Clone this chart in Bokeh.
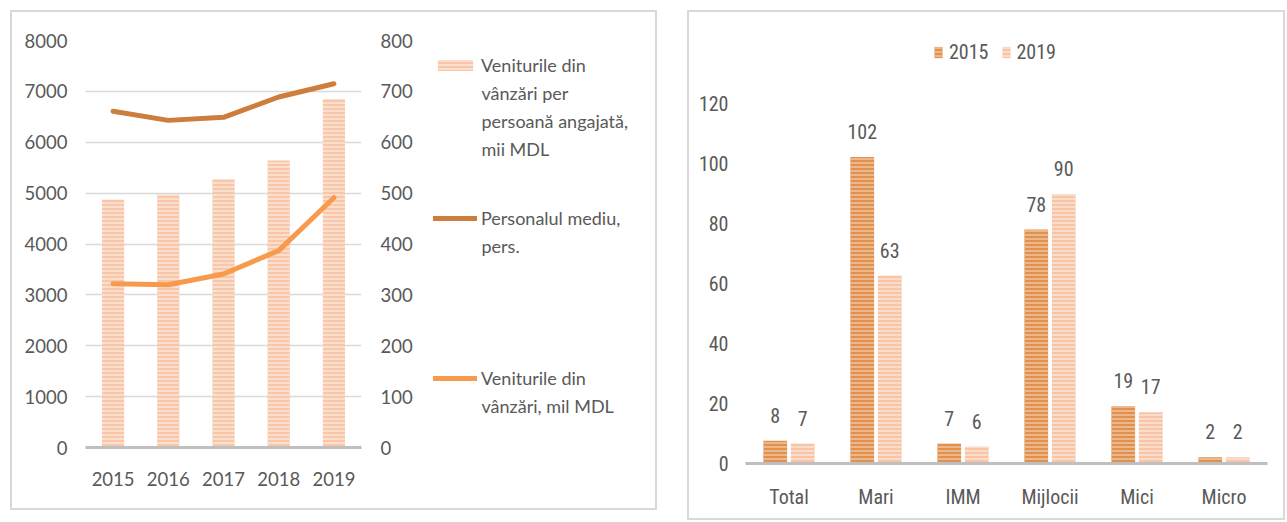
from bokeh.plotting import figure
from bokeh.models import (ColumnDataSource, Range1d, LinearAxis, FactorRange, Legend,
                          LegendItem, LabelSet, Label, FixedTicker)
from bokeh.layouts import row, column
from bokeh.transform import dodge
from bokeh.core.properties import value
from bokeh.embed import file_html
from bokeh.resources import INLINE

# ---------------- data ----------------
years = ["2015", "2016", "2017", "2018", "2019"]
sales_per_employee = [4870, 4970, 5270, 5640, 6850]   # mii MDL (left axis)
avg_staff = [661, 643, 649, 689, 715]                 # pers. (right axis)
sales_revenue = [322, 320, 341, 387, 491]             # mil MDL (right axis)

legend_left = [
    ["Veniturile din", "vânzări per", "persoană angajată,", "mii MDL"],
    ["Personalul mediu,", "pers."],
    ["Veniturile din", "vânzări, mil MDL"],
]

categories = ["Total", "Mari", "IMM", "Mijlocii", "Mici", "Micro"]
vals_2015 = [7.6, 102.2, 6.6, 78.0, 19.1, 2.1]
vals_2019 = [6.6, 62.6, 5.6, 89.8, 17.1, 2.1]
series_names = ["2015", "2019"]

TXT = "#595959"
FONT_L = "Lato"
FONT_R = "Roboto Condensed"
DARK = "#CD7D3C"
LIGHT = "#F79A4C"
BORDER = "2px solid #D9D9D9"

# ---------------- left chart ----------------
src1 = ColumnDataSource(dict(year=years, spe=sales_per_employee, staff=avg_staff, rev=sales_revenue))

p1 = figure(x_range=years, y_range=Range1d(0, 8000), width=416, height=496,
            output_backend="svg", toolbar_location=None,
            min_border_left=73, min_border_right=67, min_border_top=28, min_border_bottom=61)
p1.extra_y_ranges = {"r": Range1d(0, 800)}
p1.outline_line_color = None

bar_style = dict(fill_color="#F8C6A8", line_color=None, hatch_pattern="horizontal_line",
                 hatch_color="#FDE6D8", hatch_scale=4, hatch_weight=1.5)
staff_style = dict(line_width=5, line_color=DARK, line_cap="round", line_join="round")
rev_style = dict(line_width=5, line_color=LIGHT, line_cap="round", line_join="round")

p1.vbar(x="year", top="spe", width=0.4, source=src1, **bar_style)
p1.line(x="year", y="staff", y_range_name="r", source=src1, **staff_style)
p1.line(x="year", y="rev", y_range_name="r", source=src1, **rev_style)

p1.xgrid.grid_line_color = None
p1.ygrid.grid_line_color = "#D9D9D9"
p1.ygrid.grid_line_width = 1.5
p1.yaxis.ticker = FixedTicker(ticks=list(range(0, 8001, 1000)))

ax_r = LinearAxis(y_range_name="r", ticker=FixedTicker(ticks=list(range(0, 801, 100))))
p1.add_layout(ax_r, "right")

for ax, so in ((p1.yaxis[0], 18), (ax_r, 19)):
    ax.axis_line_color = None
    ax.major_tick_line_color = None
    ax.minor_tick_line_color = None
    ax.major_tick_out = 0
    ax.major_tick_in = 0
    ax.minor_tick_out = 0
    ax.major_label_text_color = TXT
    ax.major_label_text_font = FONT_L
    ax.major_label_text_font_size = "18.5px"
    ax.major_label_standoff = so

xa = p1.xaxis[0]
xa.axis_line_color = "#BFBFBF"
xa.axis_line_width = 3
xa.major_tick_line_color = None
xa.minor_tick_line_color = None
xa.major_tick_out = 0
xa.major_tick_in = 0
xa.major_label_text_color = TXT
xa.major_label_text_font = FONT_L
xa.major_label_text_font_size = "18.5px"
xa.major_label_standoff = 24

# legend panel for the left chart (hidden copies of the series supply the legend glyphs)
p_leg = figure(width=227, height=496, output_backend="svg", toolbar_location=None,
               x_axis_location=None, y_axis_location=None,
               x_range=FactorRange(*years), y_range=Range1d(-2, -1),
               min_border_left=0, min_border_right=0, min_border_top=28, min_border_bottom=61)
p_leg.outline_line_color = None
p_leg.grid.visible = False

r_bar = p_leg.vbar(x="year", top="spe", width=0.4, source=src1, visible=False, **bar_style)
r_staff = p_leg.line(x="year", y="staff", source=src1, visible=False, **staff_style)
r_rev = p_leg.line(x="year", y="rev", source=src1, visible=False, **rev_style)

leg_y = [371, 218, 58]          # legend bottoms (screen px above frame bottom)
first_line_y = [382, 229, 69]   # centre of the first text line
for rend, lines, vy, fy in zip((r_bar, r_staff, r_rev), legend_left, leg_y, first_line_y):
    lg = Legend(items=[LegendItem(label=lines[0], renderers=[rend])], location=(5, vy),
                padding=0, margin=0, border_line_color=None, background_fill_alpha=0,
                inactive_fill_alpha=0,
                glyph_width=44, glyph_height=14, label_standoff=4, label_height=22,
                label_text_font=FONT_L, label_text_font_size="18px", label_text_color=TXT)
    p_leg.add_layout(lg, "center")
    for i, t in enumerate(lines[1:], start=1):
        p_leg.add_layout(Label(x=53, y=fy - 27.7 * i, x_units="screen", y_units="screen", text=t,
                               text_baseline="middle", text_align="left", text_font=FONT_L,
                               text_font_size="18px", text_color=TXT))

left_block = row(p1, p_leg, styles={"border": BORDER}, margin=(10, 0, 0, 10))

# ---------------- right chart ----------------
src2 = ColumnDataSource(dict(cat=categories, v15=vals_2015, v19=vals_2019,
                             t15=[f"{round(v)}" for v in vals_2015],
                             t19=[f"{round(v)}" for v in vals_2019]))

p2 = figure(x_range=FactorRange(*categories), y_range=Range1d(0, 147), width=594, height=506,
            output_backend="svg", toolbar_location=None,
            min_border_left=56, min_border_right=16, min_border_top=10, min_border_bottom=55)
p2.outline_line_color = None
p2.xgrid.grid_line_color = None
p2.ygrid.grid_line_color = None

b15 = p2.vbar(x=dodge("cat", -0.158, range=p2.x_range), top="v15", width=0.272, source=src2,
              fill_color="#E0914F", line_color=None, hatch_pattern="horizontal_line",
              hatch_color="#F2C49C", hatch_scale=4, hatch_weight=1.5)
b19 = p2.vbar(x=dodge("cat", 0.158, range=p2.x_range), top="v19", width=0.272, source=src2,
              fill_color="#F8C4A6", line_color=None, hatch_pattern="horizontal_line",
              hatch_color="#FDE4D6", hatch_scale=4, hatch_weight=1.5)

for col, txt, off in (("v15", "t15", -0.158), ("v19", "t19", 0.158)):
    p2.add_layout(LabelSet(x=dodge("cat", off, range=p2.x_range), y=col, text=txt, source=src2,
                           y_offset=18, text_align="center", text_baseline="alphabetic",
                           text_font=value(FONT_R), text_font_size="20px", text_color=TXT))

p2.yaxis.ticker = FixedTicker(ticks=list(range(0, 121, 20)))
ya = p2.yaxis[0]
ya.axis_line_color = None
ya.major_tick_line_color = None
ya.minor_tick_line_color = None
ya.major_tick_out = 0
ya.major_tick_in = 0
ya.major_label_text_color = TXT
ya.major_label_text_font = FONT_R
ya.major_label_text_font_size = "20px"
ya.major_label_standoff = 17

xb = p2.xaxis[0]
xb.axis_line_color = "#BFBFBF"
xb.axis_line_width = 3
xb.major_tick_line_color = None
xb.minor_tick_line_color = None
xb.major_tick_out = 0
xb.major_tick_in = 0
xb.major_label_text_color = TXT
xb.major_label_text_font = FONT_R
xb.major_label_text_font_size = "20px"
xb.major_label_standoff = 21

lg2 = Legend(items=[LegendItem(label=series_names[0], renderers=[b15]),
                    LegendItem(label=series_names[1], renderers=[b19])],
             orientation="horizontal", location=(188, 399), padding=0, margin=0, spacing=12,
             border_line_color=None, background_fill_alpha=0, glyph_width=10, glyph_height=14,
             label_standoff=6, label_height=22, label_text_font=FONT_R, label_text_font_size="20px",
             label_text_color=TXT)
p2.add_layout(lg2, "center")

right_block = column(p2, styles={"border": BORDER}, margin=(10, 0, 0, 30))

layout = row(column(left_block), right_block)
open("out.html", "w").write(file_html(layout, INLINE))
